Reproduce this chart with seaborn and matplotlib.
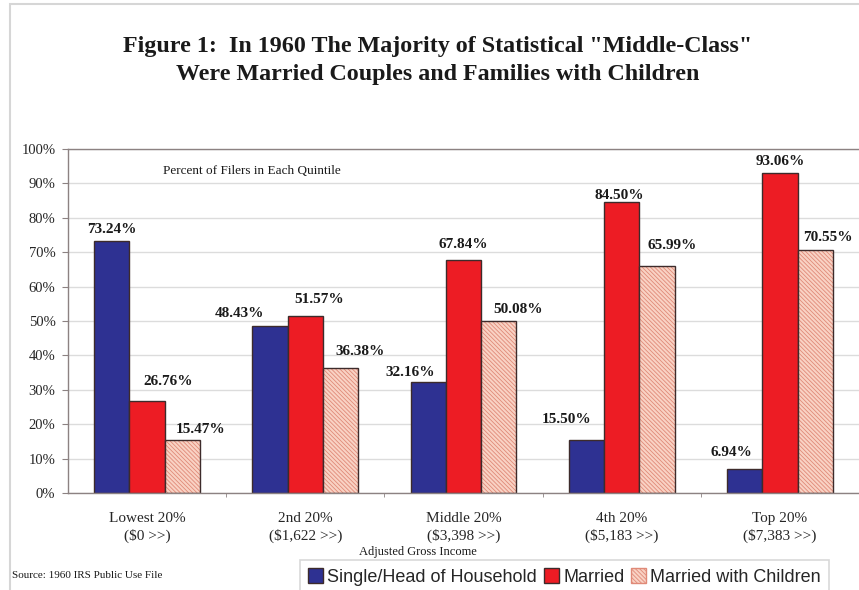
import matplotlib
matplotlib.use("Agg")
import matplotlib.pyplot as plt
from matplotlib.patches import Patch, Rectangle
from matplotlib.ticker import PercentFormatter, FixedLocator
import seaborn as sns
import pandas as pd

# Income quintiles (1960 adjusted gross income thresholds)
quintiles = ["Lowest 20%", "2nd 20%", "Middle 20%", "4th 20%", "Top 20%"]
thresholds = ["($0 >>)", "($1,622 >>)", "($3,398 >>)", "($5,183 >>)", "($7,383 >>)"]
series = ["Single/Head of Household", "Married", "Married with Children"]

# Percent of filers in each quintile
single = [73.24, 48.43, 32.16, 15.50, 6.94]
married = [26.76, 51.57, 67.84, 84.50, 93.06]
married_kids = [15.47, 36.38, 50.08, 65.99, 70.55]

df = pd.DataFrame({
    "quintile": quintiles * 3,
    "group": [series[0]] * 5 + [series[1]] * 5 + [series[2]] * 5,
    "pct": single + married + married_kids,
})

# Label nudges in pixels (dx, gap above bar) so labels do not collide
label_dx = {series[0]: [0, -31, -18, -20, -13],
            series[1]: [21, 14, 0, -2, 0],
            series[2]: [18, 19, 19, 15, 13]}
label_gap = {series[0]: [8, 9, 6, 17, 13],
             series[1]: [16, 13, 12, 3, 8],
             series[2]: [7, 13, 8, 17, 9]}

BLUE = "#2e3192"
RED = "#ed1c24"
PINK = "#f9d2c4"
HATCH = "#e08a78"
EDGE = "#3d2b2b"
AXIS = "#8c8282"

sns.set_style("white")
plt.rcParams["font.family"] = ["Liberation Serif", "DejaVu Serif"]
plt.rcParams["hatch.linewidth"] = 0.6

W, H = 859, 590
fig = plt.figure(figsize=(W / 100, H / 100), dpi=100)
fig.patch.set_facecolor("white")

# light frame around the whole chart
fig.add_artist(Rectangle((10 / W, -0.05), 1.0, 1 - 4 / H + 0.05,
                         transform=fig.transFigure, fill=False,
                         edgecolor="#d6d6d6", linewidth=1.5))

ax = fig.add_axes([68 / W, 97 / H, (W - 68) / W, 344 / H])

sns.barplot(data=df, x="quintile", y="pct", hue="group", order=quintiles,
            hue_order=series, palette=[BLUE, RED, PINK], width=0.67,
            edgecolor=EDGE, linewidth=1.0, saturation=1, legend=False, ax=ax)

# Bars are ordered by hue: first five single, next five married, last five with children
patches = list(ax.patches)
for p in patches[10:15]:
    p.set_hatch("\\" * 8)
    p.set_edgecolor(HATCH)
    p.set_linewidth(0)
    ax.add_patch(Rectangle(p.get_xy(), p.get_width(), p.get_height(),
                           fill=False, edgecolor=EDGE, linewidth=1.0, zorder=p.get_zorder() + 0.1))

# value labels
for s_idx, name in enumerate(series):
    for q in range(5):
        p = patches[s_idx * 5 + q]
        v = p.get_height()
        ax.annotate(f"{v:.2f}%", xy=(p.get_x() + p.get_width() / 2, v),
                    xytext=(label_dx[name][q] * 0.72, label_gap[name][q] * 0.72),
                    textcoords="offset points", ha="center", va="baseline",
                    fontsize=11, fontweight="bold", color="#1a1a1a")

ax.set_ylim(0, 100)
ax.set_xlim(-0.5, 4.5)
ax.yaxis.set_major_locator(FixedLocator(range(0, 101, 10)))
ax.yaxis.set_major_formatter(PercentFormatter(decimals=0))
ax.set_xticks(range(5))
ax.set_xticklabels([f"{q}\n{t}" for q, t in zip(quintiles, thresholds)],
                   fontsize=11, linespacing=1.35)
ax.xaxis.set_minor_locator(FixedLocator([0.5, 1.5, 2.5, 3.5]))
ax.tick_params(axis="x", which="major", length=0, pad=13.5)
ax.tick_params(axis="x", which="minor", length=3, color=AXIS, direction="out", bottom=True)
ax.tick_params(axis="y", length=4, color=AXIS, direction="out", left=True, labelsize=10.5, pad=5)
ax.set_xlabel("")
ax.set_ylabel("")

ax.grid(axis="y", color="#dcdcdc", linewidth=1.0)
ax.set_axisbelow(True)
for side in ["left", "top", "bottom"]:
    ax.spines[side].set_visible(True)
    ax.spines[side].set_color(AXIS)
    ax.spines[side].set_linewidth(1.0)
ax.spines["right"].set_visible(False)

# titles and notes
fig.text(438 / W, 1 - 60.5 / H,
         "Figure 1:  In 1960 The Majority of Statistical \"Middle-Class\"\n"
         "Were Married Couples and Families with Children",
         ha="center", va="center", fontsize=17.3, fontweight="bold",
         linespacing=1.38, color="#1a1a1a")
fig.text(163 / W, 1 - 171 / H, "Percent of Filers in Each Quintile",
         ha="left", va="center", fontsize=9.5, color="#1a1a1a")
fig.text(418 / W, 1 - 552 / H, "Adjusted Gross Income",
         ha="center", va="center", fontsize=9, color="#1a1a1a")
fig.text(12 / W, 1 - 576 / H, "Source: 1960 IRS Public Use File",
         ha="left", va="center", fontsize=8, color="#1a1a1a")

handles = [Patch(facecolor=BLUE, edgecolor=EDGE, linewidth=1.0),
           Patch(facecolor=RED, edgecolor=EDGE, linewidth=1.0),
           Patch(facecolor=PINK, edgecolor=HATCH, hatch="\\" * 8, linewidth=1.0)]
leg = fig.legend(handles, series, loc="upper left",
                 bbox_to_anchor=(300 / W, 1 - 560 / H), ncol=3,
                 frameon=True, fancybox=False, edgecolor="#cfcfcf",
                 handlelength=0.8, handleheight=0.9, handletextpad=0.25,
                 columnspacing=0.4, borderpad=0.45, borderaxespad=0,
                 prop={"family": ["Liberation Sans"], "size": 13})
leg.get_frame().set_linewidth(1.2)

fig.savefig("out.png", dpi=100)
